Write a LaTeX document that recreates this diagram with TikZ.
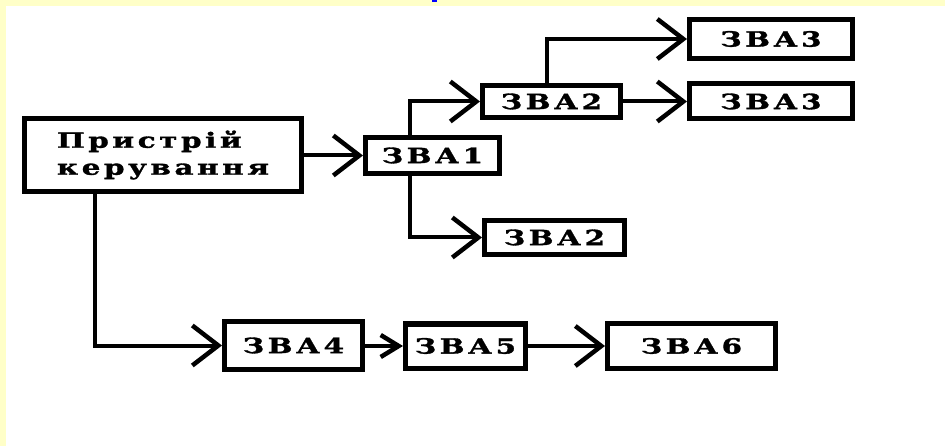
\documentclass[tikz,border=0pt]{standalone}
\usepackage{fontspec}
\usetikzlibrary{arrows.meta}
\newfontfamily\boxfont[FakeStretch=1.4,LetterSpace=17,FakeBold=1.5]{DejaVu Serif}
\definecolor{bgyellow}{HTML}{FFFFC8}
\begin{document}
\begin{tikzpicture}[x=1pt,y=-1pt,
  box/.style={draw=black,line width=5pt,inner sep=0pt,text=black,
    font=\boxfont\bfseries\fontsize{21}{27}\selectfont},
  conn/.style={line width=4pt},
  bigarr/.style={conn,-{Straight Barb[length=26pt,width=40pt,line width=4.5pt]}},
  smallarr/.style={conn,-{Straight Barb[length=18pt,width=22pt,line width=4.5pt]}}]
\useasboundingbox (0,0) rectangle (945,446);
\fill[bgyellow] (0,0) rectangle (945,446);
\fill[white] (6,6) rectangle (945,446);
\fill[blue] (432,0) rectangle (437,2.5);

\node[box,minimum width=277pt,minimum height=73pt,align=left] (main) at (163,155) {Пристрій\\керування};
\node[box,minimum width=134pt,minimum height=36pt] (zba1) at (432.5,155.5) {ЗВА1};
\node[box,minimum width=138pt,minimum height=32pt] (zba2u) at (551.5,101.5) {ЗВА2};
\node[box,minimum width=163pt,minimum height=39pt] (zba3u) at (771,39) {ЗВА3};
\node[box,minimum width=163pt,minimum height=35pt] (zba3l) at (771,101.5) {ЗВА3};
\node[box,minimum width=140pt,minimum height=34pt] (zba2l) at (554.5,237.5) {ЗВА2};
\node[box,minimum width=138pt,minimum height=48pt] (zba4) at (293.5,345.5) {ЗВА4};
\node[box,minimum width=120pt,minimum height=44pt] (zba5) at (465.5,346) {ЗВА5};
\node[box,minimum width=168pt,minimum height=45pt] (zba6) at (691.5,346) {ЗВА6};

\coordinate (j1) at (410,0);
\coordinate (j2) at (547,0);
\coordinate (j3) at (95,0);

\draw[bigarr] (main.east |- zba1.west) -- (zba1.west);
\draw[bigarr] (j1 |- zba1.north) |- (zba2u.west);
\draw[bigarr] (j1 |- zba1.south) |- (zba2l.west);
\draw[bigarr] (j2 |- zba2u.north) |- (zba3u.west);
\draw[bigarr] (zba2u.east) -- (zba3l.west);
\draw[bigarr] (j3 |- main.south) |- (zba4.west);
\draw[smallarr] (zba4.east |- zba5.west) -- (zba5.west);
\draw[bigarr] (zba5.east) -- (zba6.west);
\end{tikzpicture}
\end{document}
